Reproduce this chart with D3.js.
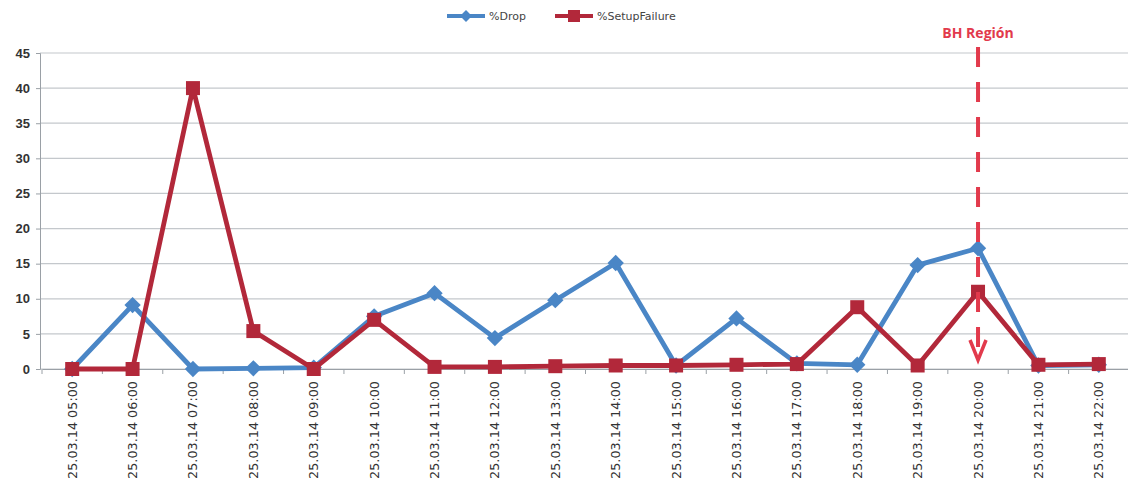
<!DOCTYPE html>
<html><head><meta charset="utf-8">
<script src="https://cdn.jsdelivr.net/npm/d3@7"></script>
<style>body{margin:0;background:#fff}svg{display:block}</style>
</head><body>
<svg id="c" width="1128" height="494"></svg>
<script>
const categories = ["25.03.14 05:00","25.03.14 06:00","25.03.14 07:00","25.03.14 08:00","25.03.14 09:00","25.03.14 10:00","25.03.14 11:00","25.03.14 12:00","25.03.14 13:00","25.03.14 14:00","25.03.14 15:00","25.03.14 16:00","25.03.14 17:00","25.03.14 18:00","25.03.14 19:00","25.03.14 20:00","25.03.14 21:00","25.03.14 22:00"];
const dropValues = [0, 9.1, 0, 0.1, 0.2, 7.5, 10.8, 4.4, 9.8, 15.1, 0.5, 7.2, 0.8, 0.6, 14.8, 17.2, 0.5, 0.6];
const setupFailureValues = [0, 0, 40, 5.4, 0, 7.0, 0.3, 0.3, 0.4, 0.5, 0.5, 0.6, 0.7, 8.8, 0.5, 11.0, 0.6, 0.7];
const yTicks = [0,5,10,15,20,25,30,35,40,45];
const seriesNames = ["%Drop","%SetupFailure"];
const bhCategory = "25.03.14 20:00";
const bhLabel = "BH Región";

const blue = "#4a86c6", red = "#b2283a", bh = "#e23a4c";
const svg = d3.select("#c");
const x = d3.scaleBand().domain(categories).range([42, 1129]);
const y = d3.scaleLinear().domain([0,45]).range([369, 53]);
const cx = d => x(d) + x.bandwidth()/2;

// gridlines
svg.append("g").selectAll("line").data(yTicks).join("line")
  .attr("x1", 40).attr("x2", 1128).attr("y1", d=>y(d)).attr("y2", d=>y(d))
  .attr("stroke", "#c4c8cc").attr("stroke-width", 1.2);

// y axis
const ya = svg.append("g").attr("transform","translate(40,0)")
  .call(d3.axisLeft(y).tickValues(yTicks).tickSize(4).tickPadding(6));
ya.select(".domain").attr("stroke","#9aa0a6");
ya.selectAll(".tick line").attr("stroke","#9aa0a6");
ya.selectAll("text").attr("font-family","'Liberation Sans', Arial, sans-serif")
  .attr("font-size",13).attr("font-weight","bold").attr("fill","#333");

// x axis
const xa = svg.append("g").attr("transform","translate(0,369)")
  .call(d3.axisBottom(x).tickSize(0).tickPadding(0));
xa.select(".domain").attr("stroke","#9aa0a6");
xa.selectAll(".tick text").attr("font-family","'DejaVu Sans', Verdana, sans-serif")
  .attr("font-size",12.8).attr("fill","#333")
  .attr("text-anchor","end").attr("x",0).attr("y",0).attr("dx",0).attr("dy","0.35em")
  .attr("transform","translate(0,12) rotate(-90)");
// category boundary ticks
svg.append("g").selectAll("line").data(categories.concat(["end"])).join("line")
  .attr("x1",(d,i)=>42 + i*x.step()).attr("x2",(d,i)=>42 + i*x.step())
  .attr("y1",369).attr("y2",374).attr("stroke","#9aa0a6");

// lines
const line = d3.line().x((d,i)=>cx(categories[i])).y(d=>y(d));
svg.append("path").datum(dropValues).attr("d", line).attr("fill","none")
  .attr("stroke", blue).attr("stroke-width",4.8).attr("stroke-linejoin","round");
svg.append("g").selectAll("path").data(dropValues).join("path")
  .attr("d", d3.symbol(d3.symbolDiamond2, 170)())
  .attr("transform",(d,i)=>`translate(${cx(categories[i])},${y(d)})`).attr("fill",blue);
svg.append("path").datum(setupFailureValues).attr("d", line).attr("fill","none")
  .attr("stroke", red).attr("stroke-width",4.8).attr("stroke-linejoin","round");
svg.append("g").selectAll("rect").data(setupFailureValues).join("rect")
  .attr("x",(d,i)=>cx(categories[i])-7).attr("y",d=>y(d)-7).attr("width",14).attr("height",14)
  .attr("fill",red);

// BH region marker
const bx = cx(bhCategory);
svg.append("line").attr("x1",bx).attr("x2",bx).attr("y1",47).attr("y2",360)
  .attr("stroke",bh).attr("stroke-width",4).attr("stroke-dasharray","20,15");
svg.append("path").attr("d",`M${bx-8},${340} L${bx},${360} L${bx+8},${340}`)
  .attr("fill","none").attr("stroke",bh).attr("stroke-width",3.5);
svg.append("text").attr("x",bx).attr("y",38).attr("text-anchor","middle")
  .attr("font-family","'Open Sans', 'Liberation Sans', sans-serif").attr("font-weight","bold")
  .attr("font-size",14).attr("fill",bh).text(bhLabel);

// legend
const leg = svg.append("g").attr("font-family","'DejaVu Sans', sans-serif").attr("font-size",11).attr("fill","#444");
const lx = [447, 555];
[blue, red].forEach((c,i)=>{
  leg.append("line").attr("x1",lx[i]).attr("x2",lx[i]+38).attr("y1",16).attr("y2",16)
    .attr("stroke",c).attr("stroke-width",4);
  if(i===0) leg.append("path").attr("d",d3.symbol(d3.symbolDiamond2,90)()).attr("transform",`translate(${lx[i]+19},16)`).attr("fill",c);
  else leg.append("rect").attr("x",lx[i]+13).attr("y",10).attr("width",12).attr("height",12).attr("fill",c);
  leg.append("text").attr("x",lx[i]+42).attr("y",20).text(seriesNames[i]);
});
</script>
</body></html>
